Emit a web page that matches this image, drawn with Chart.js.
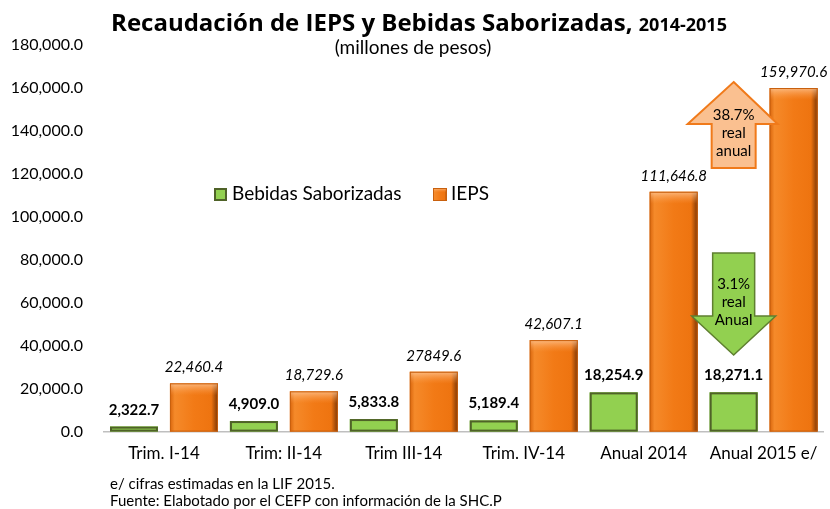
<!DOCTYPE html>
<html>
<head>
<meta charset="utf-8">
<title>Recaudación de IEPS y Bebidas Saborizadas</title>
<script src="https://cdn.jsdelivr.net/npm/chart.js@4/dist/chart.umd.min.js"></script>
<style>
  body { margin: 0; background: #fff; }
  #wrap { width: 830px; height: 509px; position: relative; }
</style>
</head>
<body>
<div id="wrap"><canvas id="myChart" width="830" height="509"></canvas></div>
<script>
'use strict';

// ----------------- chart data -----------------
var categories = ['Trim. I-14', 'Trim: II-14', 'Trim III-14', 'Trim. IV-14', 'Anual 2014', 'Anual 2015 e/'];
var bebidasValues = [2322.7, 4909.0, 5833.8, 5189.4, 18254.9, 18271.1];
var iepsValues = [22460.4, 18729.6, 27849.6, 42607.1, 111646.8, 159970.6];
var bebidasLabels = ['2,322.7', '4,909.0', '5,833.8', '5,189.4', '18,254.9', '18,271.1'];
var iepsLabels = ['22,460.4', '18,729.6', '27849.6', '42,607.1', '111,646.8', '159,970.6'];
var yTicks = [0, 20000, 40000, 60000, 80000, 100000, 120000, 140000, 160000, 180000];

var FONT = 'Lato, "Open Sans", sans-serif';
var TITLE_FONT = '"Open Sans", Lato, sans-serif';

// ------------------------- helpers -------------------------
function fmtTick(v) {
  return v.toLocaleString('en-US', { minimumFractionDigits: 1, maximumFractionDigits: 1 });
}

// draws the bevelled orange box (used in bars and legend)
function orangeBox(ctx, left, top, w, h) {
  var g = ctx.createLinearGradient(left, 0, left + w, 0);
  g.addColorStop(0, '#d9650c');
  g.addColorStop(0.1, '#f58a2a');
  g.addColorStop(0.5, '#f27a16');
  g.addColorStop(0.86, '#ee7410');
  g.addColorStop(1, '#7a3505');
  ctx.fillStyle = g;
  ctx.fillRect(left, top, w, h);
  // top bevel
  var t = Math.min(12, h / 3);
  var g2 = ctx.createLinearGradient(0, top, 0, top + t);
  g2.addColorStop(0, 'rgba(255,210,170,0.7)');
  g2.addColorStop(1, 'rgba(255,160,80,0)');
  ctx.fillStyle = g2;
  ctx.fillRect(left, top, w, t);
  ctx.strokeStyle = '#c8600e';
  ctx.lineWidth = 1;
  ctx.strokeRect(left + 0.5, top + 0.5, w - 1, h - 1);
}

function greenBox(ctx, left, top, w, h) {
  ctx.fillStyle = '#92d050';
  ctx.fillRect(left, top, w, h);
  ctx.strokeStyle = '#4f6228';
  ctx.lineWidth = 2;
  ctx.strokeRect(left + 1, top + 1, w - 2, h - 2);
}

// ------------------------- custom drawing plugin -------------------------
var decorPlugin = {
  id: 'decor',
  afterDatasetsDraw: function (chart) {
    var ctx = chart.ctx;
    ctx.save();
    // restyle the bars
    var metaB = chart.getDatasetMeta(0);
    var metaI = chart.getDatasetMeta(1);
    metaB.data.forEach(function (bar) {
      greenBox(ctx, bar.x - bar.width / 2, bar.y, bar.width, bar.base - bar.y);
    });
    metaI.data.forEach(function (bar) {
      orangeBox(ctx, bar.x - bar.width / 2, bar.y, bar.width, bar.base - bar.y);
    });

    // value labels
    ctx.fillStyle = '#000';
    ctx.textAlign = 'center';
    ctx.textBaseline = 'alphabetic';
    ctx.font = 'bold 15px ' + FONT;
    metaB.data.forEach(function (bar, i) {
      ctx.fillText(bebidasLabels[i], bar.x, bar.y - 12);
    });
    ctx.font = 'italic 15px ' + FONT;
    metaI.data.forEach(function (bar, i) {
      ctx.fillText(iepsLabels[i], bar.x, bar.y - 11);
    });

    // arrows over the 2015 green bar
    var ax = metaB.data[5].x;
    // up arrow (IEPS growth)
    ctx.beginPath();
    ctx.moveTo(ax, 82);
    ctx.lineTo(ax + 44, 124);
    ctx.lineTo(ax + 22, 124);
    ctx.lineTo(ax + 22, 168);
    ctx.lineTo(ax - 22, 168);
    ctx.lineTo(ax - 22, 124);
    ctx.lineTo(ax - 46, 124);
    ctx.closePath();
    ctx.fillStyle = '#fac090';
    ctx.fill();
    ctx.strokeStyle = '#f07a1a';
    ctx.lineWidth = 2;
    ctx.stroke();
    ctx.fillStyle = '#000';
    ctx.font = '15px ' + FONT;
    ctx.fillText('38.7%', ax, 120);
    ctx.fillText('real', ax, 138);
    ctx.fillText('anual', ax, 156);

    // down arrow (Bebidas growth)
    ctx.beginPath();
    ctx.moveTo(ax - 21, 253);
    ctx.lineTo(ax + 21, 253);
    ctx.lineTo(ax + 21, 316);
    ctx.lineTo(ax + 42, 316);
    ctx.lineTo(ax, 355);
    ctx.lineTo(ax - 42, 316);
    ctx.lineTo(ax - 21, 316);
    ctx.closePath();
    ctx.fillStyle = '#92d050';
    ctx.fill();
    ctx.strokeStyle = '#5f7f30';
    ctx.lineWidth = 1.5;
    ctx.stroke();
    ctx.fillStyle = '#000';
    ctx.fillText('3.1%', ax, 289);
    ctx.fillText('real', ax, 307);
    ctx.fillText('Anual', ax, 325);

    // legend
    ctx.textAlign = 'left';
    ctx.textBaseline = 'middle';
    ctx.font = '19px ' + FONT;
    greenBox(ctx, 214, 188, 13, 13);
    ctx.fillStyle = '#000';
    ctx.fillText(chart.data.datasets[0].label, 232, 194);
    orangeBox(ctx, 433, 188, 14, 13);
    ctx.fillStyle = '#000';
    ctx.fillText(chart.data.datasets[1].label, 451, 194);
    ctx.restore();
  },
  afterDraw: function (chart) {
    var ctx = chart.ctx;
    ctx.save();
    ctx.fillStyle = '#000';
    ctx.textBaseline = 'alphabetic';
    // title in two sizes
    var t1 = 'Recaudación de IEPS y Bebidas Saborizadas, ';
    var t2 = '2014-2015';
    ctx.font = 'bold 24px ' + TITLE_FONT;
    var w1 = ctx.measureText(t1).width;
    ctx.font = 'bold 18px ' + TITLE_FONT;
    var w2 = ctx.measureText(t2).width;
    var x0 = 419 - (w1 + w2) / 2;
    ctx.textAlign = 'left';
    ctx.font = 'bold 24px ' + TITLE_FONT;
    ctx.fillText(t1, x0, 31);
    ctx.font = 'bold 18px ' + TITLE_FONT;
    ctx.fillText(t2, x0 + w1, 31);
    // subtitle
    ctx.textAlign = 'center';
    ctx.font = '19px ' + FONT;
    ctx.fillText('(millones de pesos)', 413, 54);
    // footnotes
    ctx.textAlign = 'left';
    ctx.font = '15px ' + FONT;
    ctx.fillText('e/ cifras estimadas en la LIF 2015.', 110, 489);
    ctx.fillText('Fuente: Elabotado por el CEFP con información de la SHC.P', 110, 506);
    ctx.restore();
  }
};

// ------------------------- build the chart -------------------------
var ctx = document.getElementById('myChart').getContext('2d');
var chart = new Chart(ctx, {
  type: 'bar',
  data: {
    labels: categories,
    datasets: [
      {
        label: 'Bebidas Saborizadas',
        backgroundColor: '#92d050',
        borderColor: '#4f6228',
        borderWidth: 0,
        data: bebidasValues,
      },
      {
        label: 'IEPS',
        backgroundColor: '#f27a16',
        borderWidth: 0,
        data: iepsValues,
      },
    ],
  },
  options: {
    responsive: false,
    animation: false,
    layout: { padding: { top: 45, right: 6, bottom: 33, left: 9 } },
    datasets: { bar: { categoryPercentage: 1.0, barPercentage: 0.8 } },
    plugins: {
      legend: { display: false },
      tooltip: { enabled: false },
    },
    scales: {
      x: {
        grid: { display: false, drawTicks: false },
        border: { display: true, color: '#bfbfbf', width: 1.5 },
        ticks: { color: '#000', font: { family: FONT, size: 17 }, padding: 12 },
      },
      y: {
        min: 0,
        max: 180000,
        afterBuildTicks: function (axis) {
          axis.ticks = yTicks.map(function (v) { return { value: v }; });
        },
        afterFit: function (axis) {
          axis.width = 95;
        },
        grid: { display: false, drawTicks: false },
        border: { display: false },
        ticks: {
          color: '#000',
          padding: 21,
          font: { family: FONT, size: 16 },
          callback: function (v) { return fmtTick(v); },
        },
      },
    },
  },
  plugins: [decorPlugin],
});
</script>
</body>
</html>
